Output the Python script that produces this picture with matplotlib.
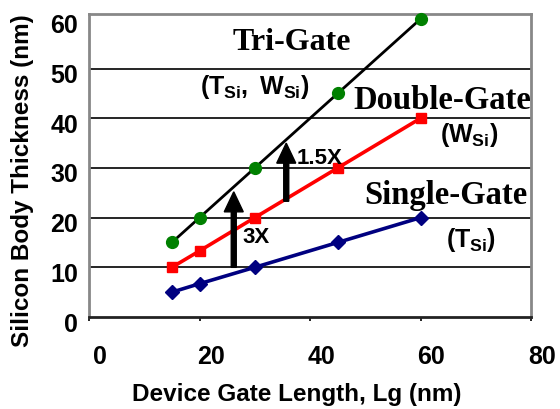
import matplotlib
matplotlib.use("Agg")
import matplotlib.pyplot as plt
import matplotlib.transforms as mtransforms

plt.rcParams['mathtext.fontset'] = 'custom'
plt.rcParams['mathtext.rm'] = 'Liberation Sans:bold'
plt.rcParams['mathtext.bf'] = 'Liberation Sans:bold'
plt.rcParams['mathtext.it'] = 'Liberation Sans:bold'

# Gate length (nm) and silicon body thickness (nm) for each architecture
gate_length = [15, 20, 30, 45, 60]
single_gate = [5, 6.7, 10, 15, 20]
double_gate = [10, 13.3, 20, 30, 40]
tri_gate = [15, 20, 30, 45, 60]

x_ticks = [0, 20, 40, 60, 80]
y_ticks = [0, 10, 20, 30, 40, 50, 60]
grid_levels = [10, 20, 30, 40, 50]

# Relaxation arrows: x, y_start, y_end, label, label_x, label_y
arrows = [(26.2, 10, 25.2, "3X", 27.7, 16.1),
          (35.7, 23.3, 35.0, "1.5X", 37.5, 32.0)]

W, H = 560, 409
fig = plt.figure(figsize=(W / 100, H / 100), dpi=100)
ax = fig.add_axes([89 / W, 1 - 317 / H, (531 - 89) / W, (317 - 14) / H])
ax.set_xlim(0, 80)
ax.set_ylim(0, 61)

sans = 'Liberation Sans'
serif = 'Liberation Serif'

for lvl in grid_levels:
    ax.axhline(lvl, color='black', lw=1.2, zorder=1)

for side in ('left', 'top', 'right'):
    ax.spines[side].set_color('#888888')
    ax.spines[side].set_linewidth(2)
ax.spines['bottom'].set_color('#222222')
ax.spines['bottom'].set_linewidth(2)

ax.set_xticks(x_ticks)
ax.set_yticks(y_ticks)
ax.tick_params(axis='x', direction='out', length=3, width=1.2, color='black', pad=17)
ax.tick_params(axis='y', length=0, pad=8)
for lab in ax.get_xticklabels():
    lab.set_fontfamily(sans)
    lab.set_fontweight('bold')
    lab.set_fontsize(18)
    lab.set_transform(lab.get_transform() + mtransforms.ScaledTranslation(11 / 100, 0, fig.dpi_scale_trans))
for lab in ax.get_yticklabels():
    lab.set_fontfamily(sans)
    lab.set_fontweight('bold')
    lab.set_fontsize(18)
    lab.set_transform(lab.get_transform() + mtransforms.ScaledTranslation(0, -5 / 100, fig.dpi_scale_trans))

ax.plot(gate_length, single_gate, color='#000080', lw=2.6, marker='D', ms=7.5,
        mfc='#000080', mec='#000080', zorder=3, clip_on=False)
ax.plot(gate_length, double_gate, color='#ff0000', lw=2.6, marker='s', ms=7.5,
        mfc='#ff0000', mec='#ff0000', zorder=3, clip_on=False)
ax.plot(gate_length, tri_gate, color='black', lw=2.0, marker='o', ms=8.5,
        mfc='#008000', mec='#008000', zorder=3, clip_on=False)

for x, y0, y1, label, lx, ly in arrows:
    ax.arrow(x, y0, 0, y1 - y0, width=5 / 5.525, head_width=19 / 5.525,
             head_length=20 / 4.967, length_includes_head=True,
             color='black', zorder=4)
    ax.text(lx, ly, label, fontfamily=sans, fontweight='bold', fontsize=16,
            ha='left', va='center', zorder=5)

ax.text(25.9, 53.7, "Tri-Gate", fontfamily=serif, fontweight='bold', fontsize=23,
        ha='left', va='baseline', zorder=5)
ax.text(47.8, 41.85, "Double-Gate", fontfamily=serif, fontweight='bold', fontsize=23.5,
        ha='left', va='baseline', zorder=5, clip_on=False)
ax.text(49.9, 22.7, "Single-Gate", fontfamily=serif, fontweight='bold', fontsize=23.5,
        ha='left', va='baseline', zorder=5, clip_on=False)

ax.text(20.1, 46.3, r"$(T_{Si},\ W_{Si})$", fontsize=18, ha='left', va='center', zorder=5)
ax.text(63.5, 36.6, r"$(W_{Si})$", fontsize=18, ha='left', va='center', zorder=5)
ax.text(64.6, 15.5, r"$(T_{Si})$", fontsize=18, ha='left', va='center', zorder=5)

fig.text(296.5 / W, 1 - 395 / H, "Device Gate Length, Lg (nm)", fontfamily=sans,
         fontweight='bold', fontsize=17.5, ha='center', va='center')
fig.text(23 / W, 1 - 181 / H, "Silicon Body Thickness (nm)", fontfamily=sans,
         fontweight='bold', fontsize=17.5, ha='center', va='center', rotation=90)

fig.savefig("out.png", dpi=100)
